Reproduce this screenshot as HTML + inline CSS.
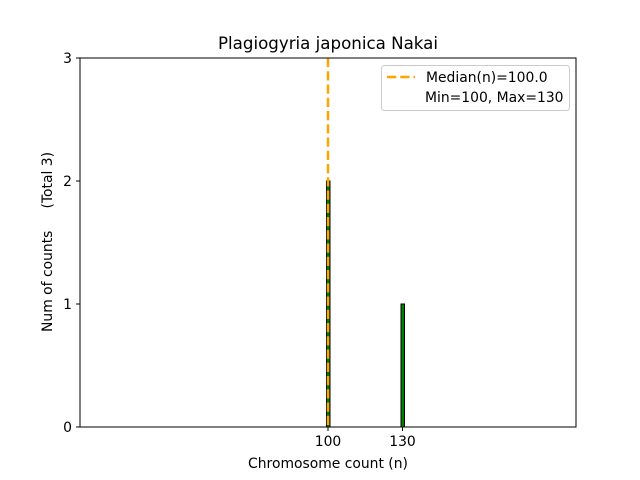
<!DOCTYPE html>
<html><head><style>body{margin:0;background:#fff}svg{display:block}</style></head>
<body>
<svg width="640" height="480" xmlns="http://www.w3.org/2000/svg" font-family="DejaVu Sans, Liberation Sans, sans-serif">
<rect width="640" height="480" fill="#fff"/>
<text x="328" y="49" font-size="16.67" text-anchor="middle">Plagiogyria japonica Nakai</text>
<rect x="326.5" y="181" width="3.5" height="246" fill="#008000" stroke="#000" stroke-width="1"/>
<rect x="401" y="304" width="3.5" height="123" fill="#008000" stroke="#000" stroke-width="1"/>
<line x1="328" y1="58" x2="328" y2="427" stroke="#FFA500" stroke-width="2.5" stroke-dasharray="9.25,4"/>
<rect x="80" y="58" width="496" height="369" fill="none" stroke="#000" stroke-width="1"/>
<g stroke="#000" stroke-width="1">
<line x1="76" y1="427" x2="80" y2="427"/><line x1="76" y1="304" x2="80" y2="304"/>
<line x1="76" y1="181" x2="80" y2="181"/><line x1="76" y1="58" x2="80" y2="58"/>
<line x1="328" y1="427" x2="328" y2="431"/><line x1="402.5" y1="427" x2="402.5" y2="431"/>
</g>
<g font-size="13.9" text-anchor="end">
<text x="72" y="432">0</text><text x="72" y="309">1</text><text x="72" y="186">2</text><text x="72" y="63">3</text>
</g>
<g font-size="13.9" text-anchor="middle">
<text x="328" y="446">100</text><text x="402.5" y="446">130</text>
<text x="328" y="468">Chromosome count (n)</text>
</g>
<text transform="translate(52,242) rotate(-90)" font-size="13.9" text-anchor="middle" xml:space="preserve">Num of counts     (Total 3)</text>
<rect x="381.5" y="65.5" width="188" height="45" rx="3" fill="#fff" fill-opacity="0.8" stroke="#ccc"/>
<line x1="387" y1="77" x2="415" y2="77" stroke="#FFA500" stroke-width="2.5" stroke-dasharray="9.25,4"/>
<text x="426" y="82" font-size="13.9">Median(n)=100.0</text>
<text x="425" y="102" font-size="13.9">Min=100, Max=130</text>
</svg>
</body></html>
